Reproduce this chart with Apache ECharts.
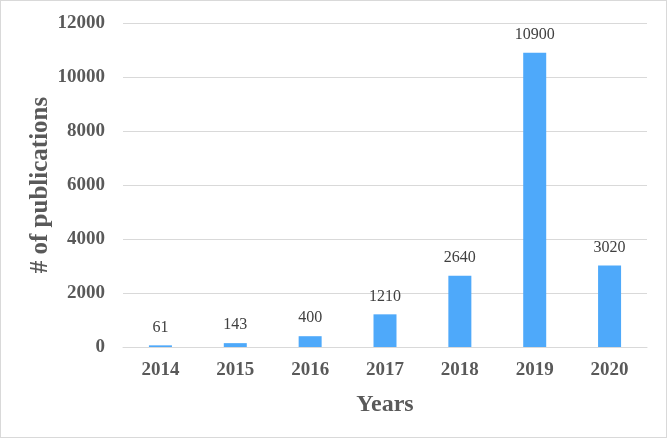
<!DOCTYPE html>
<html><head><meta charset="utf-8">
<script src="https://cdn.jsdelivr.net/npm/echarts@6/dist/echarts.min.js"></script>
<style>html,body{margin:0;padding:0;background:#fff}#c{width:667px;height:438px;box-sizing:border-box;border:1px solid #d9d9d9}</style>
</head><body><div id="c"></div>
<script>
const years = ['2014','2015','2016','2017','2018','2019','2020'];
const publications = [61, 143, 400, 1210, 2640, 10900, 3020];
const yTicks = [0, 2000, 4000, 6000, 8000, 10000, 12000];

const chart = echarts.init(document.getElementById('c'));
const serif = '"Liberation Serif", "Times New Roman", serif';
chart.setOption({
  animation: false,
  grid: {left: 122, right: 19, top: 22, bottom: 90, containLabel: false},
  xAxis: {
    type: 'category', data: years,
    name: 'Years', nameLocation: 'middle', nameGap: 46, nameMoveOverlap: false,
    nameTextStyle: {fontFamily: serif, fontWeight: 'bold', fontSize: 24, color: '#595959'},
    axisLine: {lineStyle: {color: '#d9d9d9', width: 1}},
    axisTick: {show: false},
    axisLabel: {fontFamily: serif, fontWeight: 'bold', fontSize: 19, color: '#595959', margin: 14}
  },
  yAxis: {
    type: 'value', min: yTicks[0], max: yTicks[yTicks.length-1], interval: 2000,
    name: '# of publications', nameLocation: 'middle', nameGap: 70, nameMoveOverlap: false,
    nameTextStyle: {fontFamily: serif, fontWeight: 'bold', fontSize: 25, color: '#595959'},
    axisLine: {show: false}, axisTick: {show: false},
    splitLine: {lineStyle: {color: '#d9d9d9', width: 1}},
    axisLabel: {fontFamily: serif, fontWeight: 'bold', fontSize: 19, color: '#595959', margin: 18,
      formatter: v => String(v)}
  },
  series: [{
    type: 'bar', data: publications, barWidth: 23,
    itemStyle: {color: '#4EA9FA'},
    label: {show: true, position: 'top', distance: 10, fontFamily: serif, fontSize: 16, color: '#404040'}
  }]
});
</script></body></html>
